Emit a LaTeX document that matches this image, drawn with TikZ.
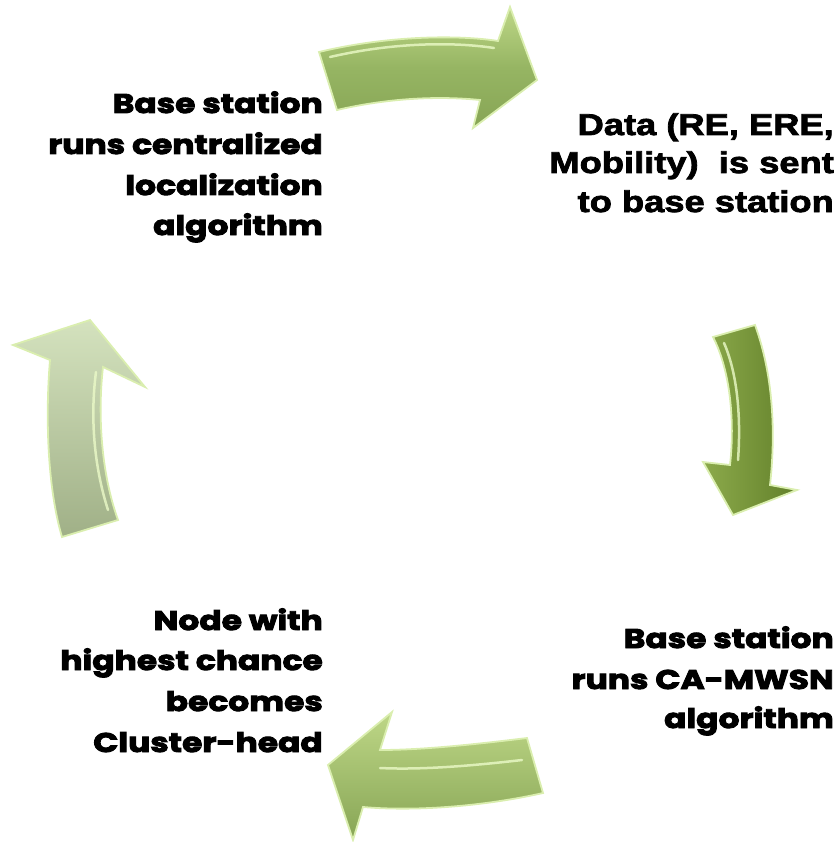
\documentclass[tikz,border=0pt]{standalone}
\usepackage{fontspec}
\newfontfamily\berlin[FakeStretch=1.22,FakeBold=3.5]{Poppins}
\newfontfamily\impactf[FakeStretch=1.21,FakeBold=2.6]{Liberation Sans}
\definecolor{amid}{RGB}{150,181,99}
\definecolor{alight}{RGB}{190,215,135}
\definecolor{adark}{RGB}{135,165,85}
\definecolor{rdark}{RGB}{98,128,42}
\definecolor{rlight}{RGB}{140,170,75}
\definecolor{llight}{RGB}{212,226,190}
\definecolor{ldark}{RGB}{160,176,135}
\definecolor{bev}{RGB}{218,238,175}
\definecolor{hil}{RGB}{235,250,200}
\begin{document}
\begin{tikzpicture}[x=1pt,y=-1pt,
  blk/.style={anchor=base east,inner sep=0pt,font=\berlin\bfseries\fontsize{27}{30}\selectfont},
  imp/.style={anchor=base east,inner sep=0pt,font=\impactf\bfseries\fontsize{30}{34}\selectfont},
  bevel/.style={line width=1.8pt,line join=miter,draw=bev},
  shine/.style={line width=2.5pt,draw=hil,line cap=round,opacity=0.8}]
\useasboundingbox (0,0) rectangle (839,842);
% top arrow
\shade[top color=alight, bottom color=adark, middle color=amid, bevel]
  (319,52) .. controls (390,35) and (460,35) .. (498,41) -- (510,7) -- (537,80) -- (473,128) -- (480,100)
  .. controls (430,95) and (380,100) .. (337,110) -- cycle;
\draw[shine] (330,57) .. controls (395,42) and (455,42) .. (494,48);
% right arrow
\shade[left color=rlight, right color=rdark, bevel]
  (713,337) -- (755,325) .. controls (775,380) and (775,440) .. (770,485) -- (797,490) -- (733,515) -- (703,462) -- (730,465)
  .. controls (735,420) and (730,370) .. (713,337) -- cycle;
\draw[shine] (724,343) .. controls (738,375) and (741,420) .. (738,460);
% bottom arrow
\shade[top color=alight, middle color=amid, bottom color=adark, bevel]
  (527,738) .. controls (470,745) and (420,750) .. (380,750) -- (392,712) -- (328,765) -- (353,840) -- (363,807)
  .. controls (420,812) and (490,805) .. (543,793) -- cycle;
\draw[shine] (522,760) .. controls (470,766) and (420,770) .. (380,768);
% left arrow
\shade[top color=llight, bottom color=ldark, bevel]
  (62,537) -- (118,520) .. controls (100,470) and (98,410) .. (103,367) -- (145,387) -- (90,320) -- (13,345) -- (50,360)
  .. controls (45,420) and (48,490) .. (62,537) -- cycle;
\draw[shine] (108,510) .. controls (92,460) and (91,410) .. (96,372);
% texts
\node[blk] (a1) at (323,113) {Base station};
\node[blk] (a2) at (323,154) {runs centralized};
\node[blk] (a3) at (323,195) {localization};
\node[blk] (a4) at (323,235) {algorithm};
\node[imp] (b1) at (834,135) {Data (RE, ERE,};
\node[imp] (b2) at (834,173) {Mobility)\ \ is sent};
\node[imp] (b3) at (834,212) {to base station};
\node[blk] (c1) at (834,648) {Base station};
\node[blk] (c2) at (834,689) {runs CA-MWSN};
\node[blk] (c3) at (834,728) {algorithm};
\node[blk] (d1) at (323,630) {Node with};
\node[blk] (d2) at (323,670) {highest chance};
\node[blk] (d3) at (323,711) {becomes};
\node[blk] (d4) at (323,752) {Cluster-head};
\end{tikzpicture}
\end{document}
